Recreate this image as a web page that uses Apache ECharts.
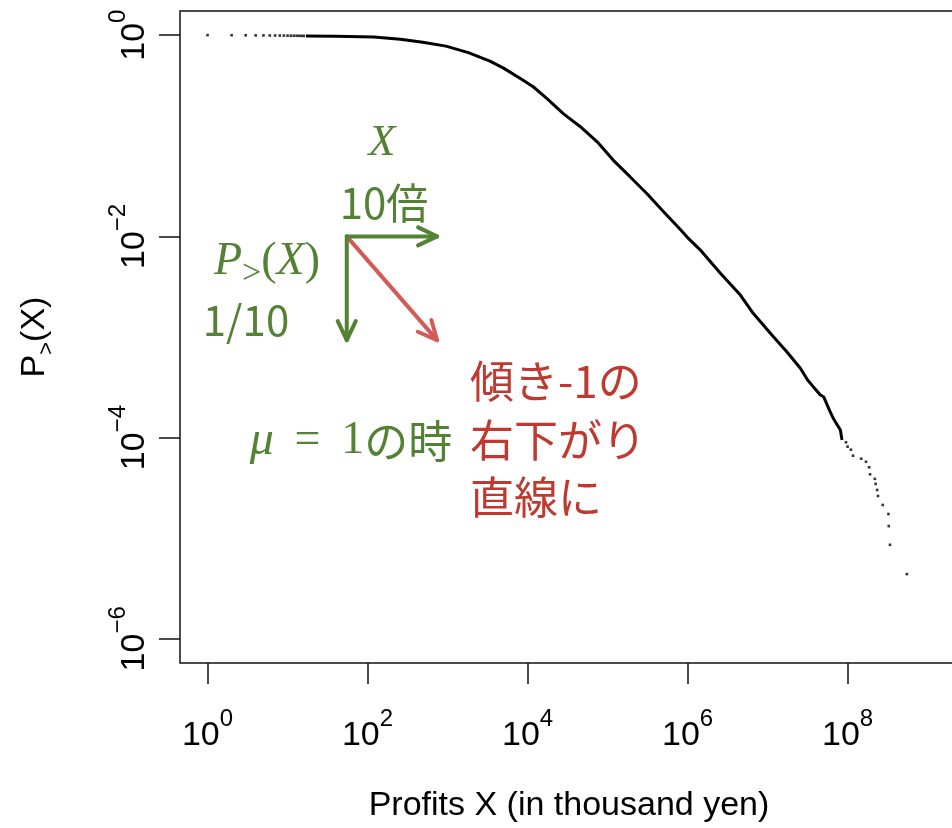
<!DOCTYPE html>
<html>
<head>
<meta charset="utf-8">
<script src="https://cdn.jsdelivr.net/npm/echarts@6/dist/echarts.min.js"></script>
<style>
html, body { margin: 0; padding: 0; background: #fff; }
#chart { width: 952px; height: 828px; }
</style>
</head>
<body>
<div id="chart"></div>
<script>
// Complementary cumulative distribution of firm profits (thousand yen)
// Small integer profits, plotted as separate points
const headProfits = [1, 2, 3, 4, 5, 6, 7, 8, 9, 10, 11, 12, 13, 14, 15, 16];
const headProb = [1.0, 0.998, 0.997, 0.995, 0.994, 0.993, 0.992, 0.991, 0.990, 0.989, 0.988, 0.987, 0.986, 0.985, 0.984, 0.983];

// Dense middle part of the distribution
const bodyProfits = [17, 40, 120, 257, 490, 955, 1820, 3388, 5012, 8511,
  11749, 17378, 28184, 45709, 74131, 117490, 190546, 309030, 501187, 812831,
  1023293, 1445440, 2570396, 4570882, 6606934, 11748976, 17378008, 25703958, 31622777, 37153523,
  45708819, 50118723, 60255959, 66069345, 81283052, 85113804];
const bodyProb = [0.982, 0.977, 0.96, 0.912, 0.852, 0.778, 0.67, 0.552, 0.47, 0.363,
  0.307, 0.235, 0.165, 0.123, 0.0871, 0.0573, 0.0392, 0.0267, 0.0176, 0.0117,
  0.00955, 0.00731, 0.0043, 0.00261, 0.00172, 0.00101, 0.000714, 0.000489, 0.000374, 0.000321,
  0.000265, 0.000255, 0.000182, 0.000156, 0.000119, 0.0000948];

// Largest firms, plotted as separate points
const tailProfits = [9.55e7, 1.0e8, 1.10e8, 1.17e8, 1.48e8, 1.70e8, 1.86e8, 1.91e8, 2.19e8,
  2.24e8, 2.34e8, 2.40e8, 2.75e8, 3.24e8, 3.27e8, 3.39e8, 5.50e8];
const tailProb = [0.0000899, 0.0000813, 0.0000759, 0.0000661, 0.0000617, 0.0000575, 0.0000507,
  0.0000432, 0.0000389, 0.0000347, 0.0000302, 0.0000263, 0.0000214, 0.0000174, 0.0000132,
  0.0000086, 0.0000044];

// Axis ticks
const xTickValues = [1, 1e2, 1e4, 1e6, 1e8];
const yTickValues = [1e-6, 1e-4, 1e-2, 1];

// Slope guide: origin and arrow tips in data coordinates
const guideOrigin = [55, 0.01];
const guideRightTip = [740, 0.01];
const guideDownTip = [55, 0.00093];
const guideDiagTip = [740, 0.00093];

const GREEN = '#548235';
const RED_TEXT = '#BE3A31';
const RED_ARROW = '#D45A55';
const AXIS_FONT = 'Liberation Sans, Arial, sans-serif';
const CJK_FONT = '"Noto Sans CJK JP", "Noto Sans", sans-serif';
const MATH_FONT = '"Liberation Serif", "DejaVu Serif", serif';

const zip = (xs, ys) => xs.map((x, i) => [x, ys[i]]);

function powerLabel(value) {
  const e = Math.round(Math.log10(value));
  const s = e < 0 ? '\u2212' + Math.abs(e) : String(e);
  return '{b|10}{s|' + s + '}';
}

const labelRich = {
  b: { fontSize: 34, fontFamily: AXIS_FONT, color: '#000', lineHeight: 46, verticalAlign: 'bottom' },
  s: { fontSize: 24, fontFamily: AXIS_FONT, color: '#000', lineHeight: 24, verticalAlign: 'top' }
};

const chart = echarts.init(document.getElementById('chart'), null, { renderer: 'canvas' });

chart.setOption({
  animation: false,
  backgroundColor: '#fff',
  grid: {
    left: 180, top: 11, width: 778, height: 652,
    show: true, borderColor: '#111', borderWidth: 1.5,
    containLabel: false, outerBoundsMode: 'none'
  },
  xAxis: {
    type: 'log', logBase: 10,
    min: Math.pow(10, -0.344), max: Math.pow(10, 9.38),
    name: 'Profits X (in thousand yen)',
    nameLocation: 'middle', nameGap: 126,
    nameTextStyle: { fontSize: 34, fontFamily: AXIS_FONT, color: '#000' },
    axisLine: { show: false },
    axisTick: { show: true, customValues: xTickValues, length: 21, lineStyle: { color: '#111', width: 1.5 } },
    axisLabel: { show: true, customValues: xTickValues, margin: 44, formatter: powerLabel, rich: labelRich },
    splitLine: { show: false },
    minorTick: { show: false }
  },
  yAxis: {
    type: 'log', logBase: 10,
    min: Math.pow(10, -6.24), max: Math.pow(10, 0.24),
    name: '{p|P}{g|>}{p|(X)}',
    nameLocation: 'middle', nameGap: 122, nameRotate: 90,
    nameTextStyle: {
      rich: {
        p: { fontSize: 34, fontFamily: AXIS_FONT, color: '#000', lineHeight: 40, verticalAlign: 'top' },
        g: { fontSize: 22, fontFamily: AXIS_FONT, color: '#000', lineHeight: 22, verticalAlign: 'bottom' }
      }
    },
    axisLine: { show: false },
    axisTick: { show: true, customValues: yTickValues, length: 21, lineStyle: { color: '#111', width: 1.5 } },
    axisLabel: { show: true, customValues: yTickValues, rotate: 90, margin: 28, formatter: powerLabel, rich: labelRich },
    splitLine: { show: false },
    minorTick: { show: false }
  },
  series: [
    {
      name: 'head', type: 'scatter', data: zip(headProfits, headProb),
      symbol: 'rect', symbolSize: 2.6, itemStyle: { color: '#000' }, silent: true
    },
    {
      name: 'body', type: 'line', data: zip(bodyProfits, bodyProb),
      showSymbol: false, smooth: false,
      lineStyle: { color: '#000', width: 3 }, silent: true
    },
    {
      name: 'tail', type: 'scatter', data: zip(tailProfits, tailProb),
      symbol: 'rect', symbolSize: 2.6, itemStyle: { color: '#000' }, silent: true
    }
  ]
});

// Annotation layer: slope guide arrows and explanatory text
function arrowElements(from, to, color) {
  const dx = to[0] - from[0], dy = to[1] - from[1];
  const len = Math.hypot(dx, dy);
  const ux = dx / len, uy = dy / len;
  const nx = -uy, ny = ux;
  const L = 19, W = 9;
  const a = [to[0] - ux * L + nx * W, to[1] - uy * L + ny * W];
  const b = [to[0] - ux * L - nx * W, to[1] - uy * L - ny * W];
  const style = { stroke: color, lineWidth: 4, fill: null, lineCap: 'round', lineJoin: 'round' };
  return [
    { type: 'polyline', shape: { points: [from, to] }, style: style, z: 10 },
    { type: 'polyline', shape: { points: [a, to, b] }, style: style, z: 10 }
  ];
}

const px = (v) => chart.convertToPixel({ gridIndex: 0 }, v);
const o = px(guideOrigin);

const textEl = (x, y, text, font, fill, align) => ({
  type: 'text', z: 11,
  style: { x: x, y: y, text: text, font: font, fill: fill, align: align || 'center', verticalAlign: 'middle' }
});

const graphics = []
  .concat(arrowElements(o, px(guideDiagTip), RED_ARROW))
  .concat(arrowElements(o, px(guideRightTip), GREEN))
  .concat(arrowElements(o, px(guideDownTip), GREEN))
  .concat([
    textEl(382, 143, 'X', 'italic 44px ' + MATH_FONT, GREEN),
    textEl(384, 203, '10倍', '42px ' + CJK_FONT, GREEN),
    {
      type: 'text', z: 11,
      style: {
        x: 267, y: 265, align: 'center', verticalAlign: 'middle',
        text: '{i|P}{g|>}{n|(}{i|X}{n|)}',
        rich: {
          i: { font: 'italic 46px ' + MATH_FONT, fill: GREEN, lineHeight: 52, verticalAlign: 'top' },
          n: { font: '46px ' + MATH_FONT, fill: GREEN, lineHeight: 52, verticalAlign: 'top' },
          g: { font: '34px ' + MATH_FONT, fill: GREEN, lineHeight: 34, verticalAlign: 'bottom' }
        }
      }
    },
    textEl(246, 320, '1/10', '42px ' + CJK_FONT, GREEN),
    {
      type: 'text', z: 11,
      style: {
        x: 351, y: 441, align: 'center', verticalAlign: 'middle',
        text: '{i|μ}{n| \u2009=\u2009 1}{c|の時}',
        rich: {
          i: { font: 'italic 48px ' + MATH_FONT, fill: GREEN },
          n: { font: '46px ' + MATH_FONT, fill: GREEN },
          c: { font: '44px ' + CJK_FONT, fill: GREEN }
        }
      }
    },
    textEl(470, 381, '傾き-1の', '44px ' + CJK_FONT, RED_TEXT, 'left'),
    textEl(470, 440, '右下がり', '44px ' + CJK_FONT, RED_TEXT, 'left'),
    textEl(470, 497, '直線に', '44px ' + CJK_FONT, RED_TEXT, 'left')
  ]);

chart.setOption({ graphic: { elements: graphics } });
</script>
</body>
</html>
